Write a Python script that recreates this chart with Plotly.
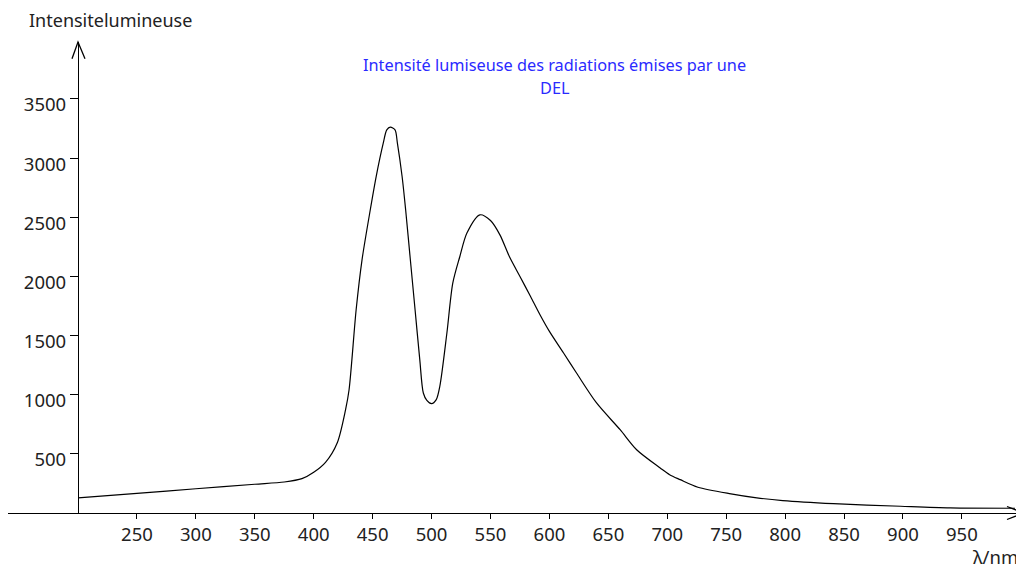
import plotly.graph_objects as go

# Data (wavelength in nm, luminous intensity)
wavelength = [200, 250, 300, 350, 375, 390, 400, 410, 420, 427, 430, 436, 441, 448, 453,
              459, 462, 465, 469, 471, 475, 478, 482, 486, 490, 493, 496, 500, 504, 507,
              513, 518, 524, 530, 541, 550, 558, 566, 575, 584, 592, 600, 612, 623, 640,
              660, 674, 694, 702, 711, 726, 754, 776, 798, 841, 898, 940, 995]
intensity = [128, 166, 205, 243, 262, 290, 344, 428, 594, 872, 1042, 1718, 2140, 2563, 2844,
             3126, 3238, 3261, 3238, 3126, 2844, 2563, 2140, 1718, 1296, 1014, 952, 924, 958, 1070,
             1521, 1943, 2168, 2366, 2520, 2472, 2351, 2168, 1999, 1830, 1676, 1535, 1352, 1183, 930,
             704, 535, 381, 324, 282, 218, 162, 128, 105, 79, 57, 43, 40]

x_ticks = [250, 300, 350, 400, 450, 500, 550, 600, 650, 700, 750, 800, 850, 900, 950]
y_ticks = [500, 1000, 1500, 2000, 2500, 3000, 3500]

title_line1 = "Intensité lumiseuse des radiations émises par une"
title_line2 = "DEL"
y_label = "Intensitelumineuse"
x_label = "λ/nm"

FONT = "Noto Sans"
W, H = 1016, 570
ML, MR, MT, MB = 8, 0, 42, 57
PW, PH = W - ML - MR, H - MT - MB


def px(x):
    return (x - ML) / PW


def py(y):
    return (H - MB - y) / PH


fig = go.Figure()
fig.add_trace(go.Scatter(
    x=wavelength, y=intensity, mode="lines",
    line=dict(color="black", width=1.2, shape="spline", smoothing=0.8),
    hoverinfo="skip", showlegend=False,
))

tickfont = dict(family=FONT, size=18.5, color="#222")
fig.update_layout(
    width=W, height=H,
    margin=dict(l=ML, r=MR, t=MT, b=MB),
    paper_bgcolor="white", plot_bgcolor="white",
    font=dict(family=FONT, color="black"),
    xaxis=dict(
        range=[140.6, 995.9], showgrid=False, zeroline=False,
        showline=True, linecolor="black", linewidth=1.3,
        tickvals=x_ticks, ticktext=[str(v) for v in x_ticks],
        ticks="outside", ticklen=5, tickcolor="black", tickwidth=1,
        tickfont=tickfont,
    ),
    yaxis=dict(
        range=[0, 3981], showgrid=False, zeroline=False,
        anchor="free", position=px(78),
        showline=True, linecolor="black", linewidth=1.3,
        tickvals=y_ticks, ticktext=[str(v) for v in y_ticks],
        ticks="outside", ticklen=8, tickcolor="black", tickwidth=1,
        tickfont=tickfont, ticklabelshift=6, ticklabelstandoff=0,
    ),
)

# Axis arrows
fig.add_shape(type="path", xref="paper", yref="paper",
              path=f"M {px(72)},{py(58.7)} L {px(78)},{py(42)} L {px(85)},{py(58.7)}",
              line=dict(color="black", width=1.3))
fig.add_shape(type="path", xref="paper", yref="paper",
              path=f"M {px(1007)},{py(506.5)} L {px(1024)},{py(513)} L {px(1007)},{py(519.5)}",
              line=dict(color="black", width=1.3))

# Texts
fig.add_annotation(text=y_label, xref="paper", yref="paper", x=px(27), y=py(20),
                   xanchor="left", yanchor="middle", showarrow=False,
                   font=dict(family=FONT, size=18, color="#222"))
fig.add_annotation(text=x_label, xref="paper", yref="paper", x=px(971), y=py(556),
                   xanchor="left", yanchor="middle", showarrow=False,
                   font=dict(family=FONT, size=18.5, color="#222"))
fig.add_annotation(text=title_line1, xref="paper", yref="paper", x=px(554.5), y=py(65),
                   xanchor="center", yanchor="middle", showarrow=False,
                   font=dict(family=FONT, size=16.3, color="#2a2aff"))
fig.add_annotation(text=title_line2, xref="paper", yref="paper", x=px(554.5), y=py(88),
                   xanchor="center", yanchor="middle", showarrow=False,
                   font=dict(family=FONT, size=16.3, color="#2a2aff"))

fig.write_html("out.html", config={"displayModeBar": False},
               post_script="document.body.style.margin='0';")
